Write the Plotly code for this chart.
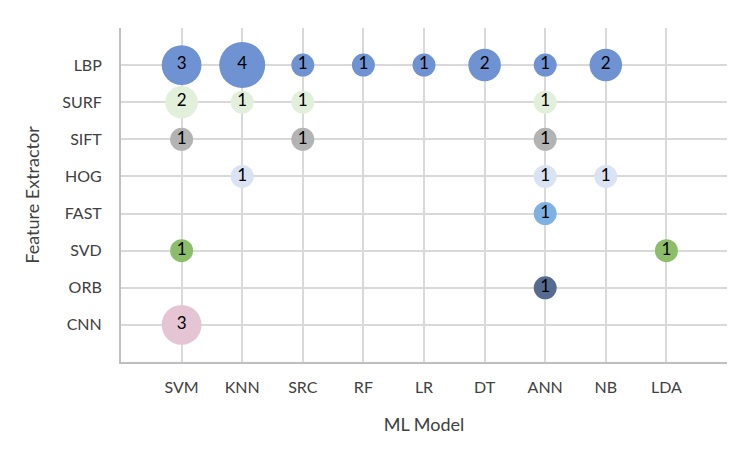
import plotly.graph_objects as go

models = ["SVM", "KNN", "SRC", "RF", "LR", "DT", "ANN", "NB", "LDA"]
extractors = ["CNN", "ORB", "SVD", "FAST", "HOG", "SIFT", "SURF", "LBP"]

lbp_models = ["SVM", "KNN", "SRC", "RF", "LR", "DT", "ANN", "NB"]
lbp_counts = [3, 4, 1, 1, 1, 2, 1, 2]
surf_models = ["SVM", "KNN", "SRC", "ANN"]
surf_counts = [2, 1, 1, 1]
sift_models = ["SVM", "SRC", "ANN"]
sift_counts = [1, 1, 1]
hog_models = ["KNN", "ANN", "NB"]
hog_counts = [1, 1, 1]
fast_models = ["ANN"]
fast_counts = [1]
svd_models = ["SVM", "LDA"]
svd_counts = [1, 1]
orb_models = ["ANN"]
orb_counts = [1]
cnn_models = ["SVM"]
cnn_counts = [3]

series = [
    ("LBP", lbp_models, lbp_counts, "#6E92D2"),
    ("SURF", surf_models, surf_counts, "#E2EFDA"),
    ("SIFT", sift_models, sift_counts, "#B3B3B3"),
    ("HOG", hog_models, hog_counts, "#DAE3F3"),
    ("FAST", fast_models, fast_counts, "#7EB1E1"),
    ("SVD", svd_models, svd_counts, "#8CBE69"),
    ("ORB", orb_models, orb_counts, "#566B90"),
    ("CNN", cnn_models, cnn_counts, "#E5C4D4"),
]

max_count = 4
max_diam = 46
sizeref = 2.0 * max_count / (max_diam ** 2)

FONT = "Lato, Open Sans, sans-serif"

fig = go.Figure()
for name, ms, cs, color in series:
    xs = [models.index(m) + 1 for m in ms]
    ys = [extractors.index(name) + 1] * len(ms)
    fig.add_trace(go.Scatter(
        x=xs, y=ys, mode="markers+text",
        text=[str(c) for c in cs], textposition="middle center",
        textfont=dict(family=FONT, size=17, color="#000000"),
        marker=dict(size=cs, sizemode="area", sizeref=sizeref, color=color,
                    opacity=1, line=dict(width=0)),
        name=name, showlegend=False, cliponaxis=False,
    ))

fig.update_layout(
    width=750, height=450,
    margin=dict(l=113, r=31, t=20, b=96),
    paper_bgcolor="white", plot_bgcolor="white",
    font=dict(family=FONT, size=16, color="#404040"),
)
fig.update_xaxes(
    range=[0, 10], tickvals=list(range(0, 11)), ticktext=[""] + models + [""],
    showgrid=True, gridcolor="#D9D9D9", gridwidth=2,
    showline=True, linecolor="#BFBFBF", linewidth=2, zeroline=False,
    ticks="", ticklabelstandoff=10, automargin=False,
    tickfont=dict(family=FONT, size=16, color="#404040"),
    title=dict(text="ML Model", font=dict(family=FONT, size=18, color="#404040"), standoff=23),
)
fig.update_yaxes(
    range=[0, 9], tickvals=list(range(0, 10)), ticktext=[""] + extractors + [""],
    showgrid=True, gridcolor="#D9D9D9", gridwidth=2,
    showline=True, linecolor="#BFBFBF", linewidth=2, zeroline=False,
    ticks="", ticklabelstandoff=14, automargin=False,
    tickfont=dict(family=FONT, size=16, color="#404040"),
    title=dict(text="Feature Extractor", font=dict(family=FONT, size=18, color="#404040"), standoff=18),
)

fig.write_html("out.html")
